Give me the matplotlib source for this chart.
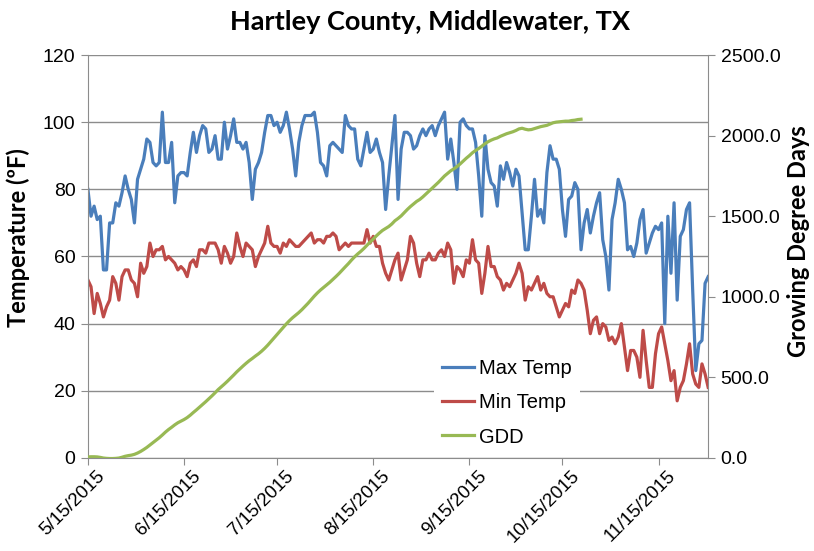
import matplotlib
matplotlib.use('Agg')
import matplotlib.pyplot as plt
import matplotlib.transforms as mtransforms
import datetime as dt

plt.rcParams['font.family'] = ['Liberation Sans', 'DejaVu Sans']

start = dt.date(2015, 5, 15)

max_temp = [80, 72, 75, 71, 72, 56, 56, 70, 70, 76, 75, 79, 84, 80, 77, 70, 83, 86, 89, 95,
            94, 88, 87, 88, 103, 88, 88, 94, 76, 84, 85, 85, 84, 91, 97, 91, 96, 99, 98, 91,
            92, 96, 89, 89, 100, 92, 96, 101, 94, 94, 92, 94, 88, 77, 86, 88, 91, 97, 102, 102,
            99, 100, 97, 99, 103, 98, 92, 84, 94, 99, 102, 102, 102, 103, 97, 88, 87, 84, 93, 94,
            93, 92, 91, 102, 99, 98, 98, 89, 87, 92, 97, 91, 92, 95, 91, 88, 74, 84, 93, 102,
            77, 92, 97, 97, 96, 92, 93, 96, 98, 96, 98, 99, 96, 99, 101, 103, 89, 95, 88, 80,
            100, 101, 99, 98, 98, 94, 84, 72, 96, 86, 82, 81, 75, 87, 83, 88, 85, 81, 86, 84,
            73, 62, 62, 72, 83, 72, 74, 70, 85, 93, 89, 89, 86, 74, 66, 77, 78, 82, 80, 62,
            70, 74, 67, 72, 76, 79, 65, 60, 50, 71, 76, 83, 80, 76, 62, 63, 60, 64, 71, 74,
            61, 64, 67, 69, 68, 70, 40, 72, 55, 76, 47, 66, 68, 74, 76, 50, 26, 34, 35, 52,
            54]

min_temp = [53, 51, 43, 49, 46, 42, 45, 47, 54, 52, 47, 54, 56, 56, 53, 52, 48, 58, 55, 57,
            64, 60, 62, 62, 63, 59, 60, 59, 58, 56, 57, 56, 54, 58, 59, 57, 62, 62, 61, 64,
            64, 64, 62, 58, 63, 61, 58, 60, 67, 63, 60, 64, 63, 62, 57, 60, 62, 64, 69, 64,
            63, 63, 61, 64, 63, 65, 64, 63, 63, 64, 65, 66, 67, 64, 65, 65, 64, 66, 66, 67,
            66, 62, 63, 64, 63, 64, 64, 64, 64, 64, 68, 64, 66, 63, 63, 58, 55, 53, 56, 59,
            61, 53, 56, 59, 66, 64, 58, 54, 59, 59, 61, 59, 59, 61, 62, 60, 64, 62, 52, 57,
            56, 54, 59, 58, 65, 59, 58, 49, 55, 63, 57, 57, 54, 53, 50, 52, 51, 53, 55, 58,
            55, 47, 51, 50, 52, 54, 50, 52, 49, 48, 48, 45, 42, 44, 46, 45, 50, 49, 53, 52,
            50, 44, 37, 41, 42, 37, 40, 39, 35, 36, 34, 36, 40, 33, 26, 32, 32, 30, 24, 38,
            29, 21, 21, 31, 37, 39, 34, 29, 23, 26, 17, 21, 23, 28, 34, 25, 22, 21, 28, 25,
            21]

gdd = [6, 7, 7, 6, 3, -1, -3, -4, -4, -3, -1, 4, 10, 14, 17, 22, 30, 40, 52, 65,
       80, 95, 110, 125, 142, 160, 176, 190, 205, 218, 228, 238, 250, 265, 282, 298, 315, 332, 349, 367,
       385, 404, 424, 441, 458, 476, 495, 514, 534, 552, 570, 587, 603, 617, 632, 646, 662, 680, 700, 722,
       745, 766, 788, 810, 832, 852, 870, 886, 902, 920, 940, 960, 982, 1004, 1024, 1042, 1058, 1074, 1090, 1108,
       1126, 1145, 1166, 1186, 1206, 1228, 1248, 1266, 1282, 1300, 1320, 1340, 1358, 1378, 1396, 1412, 1424, 1436, 1452, 1472,
       1486, 1502, 1522, 1542, 1560, 1576, 1592, 1604, 1620, 1638, 1656, 1674, 1692, 1710, 1730, 1750, 1766, 1782, 1794, 1808,
       1824, 1842, 1860, 1876, 1894, 1908, 1920, 1934, 1950, 1962, 1972, 1980, 1986, 1996, 2004, 2012, 2018, 2024, 2032, 2042,
       2046, 2040, 2036, 2038, 2044, 2050, 2056, 2060, 2064, 2072, 2080, 2084, 2086, 2088, 2090, 2090, 2094, 2096, 2100, 2102]

dates = [start + dt.timedelta(days=i) for i in range(len(max_temp))]
gdd_dates = dates[:len(gdd)]
tick_dates = [dt.date(2015, m, 15) for m in range(5, 12)]

blue = '#4A7EBB'
red = '#BE4B48'
green = '#98B954'
grid_c = '#8C8C8C'

fig = plt.figure(figsize=(8.14, 5.51), dpi=100)
ax = fig.add_axes([0.108, 0.169, 0.762, 0.731])
ax2 = ax.twinx()

l1, = ax.plot(dates, max_temp, color=blue, lw=2.3, label='Max Temp')
l2, = ax.plot(dates, min_temp, color=red, lw=2.3, label='Min Temp')
l3, = ax2.plot(gdd_dates, gdd, color=green, lw=2.3, label='GDD')

ax.set_ylim(0, 120)
ax.set_yticks(range(0, 121, 20))
ax2.set_ylim(0, 2500)
ax2.set_yticks(range(0, 2501, 500))
ax2.set_yticklabels([f'{v:.1f}' for v in range(0, 2501, 500)])
ax.set_xlim(start, dates[-1])
ax.set_xticks(tick_dates)
ax.set_xticklabels([f'{d.month}/{d.day}/{d.year}' for d in tick_dates],
                   rotation=45, ha='right', rotation_mode='anchor')

ax.yaxis.grid(True, color=grid_c, lw=1)
ax.set_axisbelow(True)
for a in (ax, ax2):
    a.spines['top'].set_visible(False)
    for s in ('left', 'right', 'bottom'):
        a.spines[s].set_color(grid_c)
    a.tick_params(colors=grid_c, labelcolor='black', labelsize=14, length=5, pad=4)
ax.tick_params(axis='x', labelsize=13.5, pad=2)
# nudge the rotated date labels a little to the right
shift = mtransforms.ScaledTranslation(6 / 72, 0, fig.dpi_scale_trans)
for lab in ax.get_xticklabels():
    lab.set_transform(lab.get_transform() + shift)
ax.spines['right'].set_visible(False)
ax2.spines['left'].set_visible(False)
ax2.spines['bottom'].set_visible(False)

ax.set_ylabel('Temperature (ºF)', fontsize=17, fontweight='bold', family='Lato')
ax.yaxis.set_label_coords(-0.093, 0.546)
ax2.set_ylabel('Growing Degree Days', fontsize=17, fontweight='bold', family='Lato')
ax2.yaxis.set_label_coords(1.127, 0.538)
fig.text(0.528, 0.96, 'Hartley County, Middlewater, TX', fontsize=19.5, fontweight='bold',
         family='Lato', ha='center', va='center')

leg = ax2.legend(handles=[l1, l2, l3], loc='center left', bbox_to_anchor=(0.542, 0.1365),
                 frameon=True, fontsize=14.5, handlelength=1.6, handletextpad=0.25,
                 labelspacing=0.75, borderpad=0.4)
leg.get_frame().set_edgecolor('none')
leg.get_frame().set_facecolor('white')
leg.get_frame().set_alpha(1)
leg.get_frame().set_boxstyle('square', pad=0)

fig.savefig('out.png', dpi=100)
